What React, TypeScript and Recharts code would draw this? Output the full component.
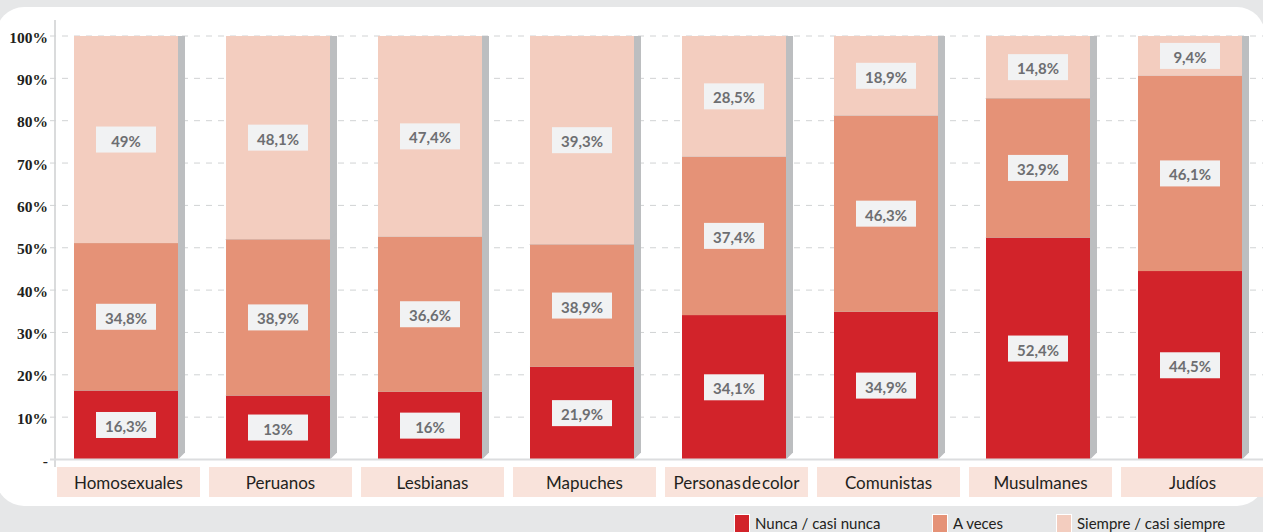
import React from 'react';
import { BarChart, Bar, XAxis, YAxis, CartesianGrid, LabelList } from 'recharts';

const categories = ['Homosexuales', 'Peruanos', 'Lesbianas', 'Mapuches', 'Personas de color', 'Comunistas', 'Musulmanes', 'Judíos'];
// bar heights as drawn in the picture (percent)
const nunca = [16.3, 15.1, 16, 21.9, 34.1, 34.9, 52.4, 44.5];
const aVeces = [34.8, 36.9, 36.6, 28.9, 37.4, 46.3, 32.9, 46.1];
const siempre = [49, 48, 47.4, 49.2, 28.5, 18.9, 14.8, 9.4];
// value labels as printed on the picture
const nuncaLabels = ['16,3%', '13%', '16%', '21,9%', '34,1%', '34,9%', '52,4%', '44,5%'];
const aVecesLabels = ['34,8%', '38,9%', '36,6%', '38,9%', '37,4%', '46,3%', '32,9%', '46,1%'];
const siempreLabels = ['49%', '48,1%', '47,4%', '39,3%', '28,5%', '18,9%', '14,8%', '9,4%'];
const yTicks = [0, 10, 20, 30, 40, 50, 60, 70, 80, 90, 100];
const seriesNames = ['Nunca / casi nunca', 'A veces', 'Siempre / casi siempre'];
const seriesColors = ['#d2232a', '#e59277', '#f3cdbf'];

const data = categories.map((c, i) => ({
  name: c,
  nunca: nunca[i],
  aVeces: aVeces[i],
  siempre: siempre[i],
  nuncaL: nuncaLabels[i],
  aVecesL: aVecesLabels[i],
  siempreL: siempreLabels[i],
}));

const SH = 7;
const BarShape = (props: any) => {
  const { x, y, width, height, fill } = props;
  if (!width || height == null) return null;
  const pts = [
    [x, y], [x + SH, y - SH], [x + width + SH, y - SH], [x + width + SH, y + height - SH], [x + width, y + height], [x, y + height],
  ].map((p) => p.join(',')).join(' ');
  return (
    <g>
      <polygon points={pts} fill="#bcbec0" />
      <rect x={x} y={y} width={width} height={height} fill={fill} />
    </g>
  );
};

const ValueLabel = (props: any) => {
  const { x, y, width, height, value } = props;
  const cx = x + width / 2;
  const cy = y + height / 2;
  return (
    <g>
      <rect x={cx - 30} y={cy - 13} width={60} height={26} fill="#f1f2f3" />
      <text x={cx} y={cy + 1} textAnchor="middle" dominantBaseline="central" fill="#6d6e71" fontFamily="Lato" fontWeight={700} fontSize={15}>
        {value}
      </text>
    </g>
  );
};

const XTick = (props: any) => {
  const { x, y, payload } = props;
  return (
    <g>
      <rect x={x - 71.5 + 2.5} y={y + 7.5} width={143} height={30} fill="#f9e3db" />
      <text x={x + 2.5} y={y + 23} textAnchor="middle" dominantBaseline="central" fill="#231f20" fontFamily="Lato" fontSize={17} wordSpacing={-3}>
        {payload.value}
      </text>
    </g>
  );
};

const YTick = (props: any) => {
  const { x, y, payload } = props;
  return (
    <text x={x} y={y + 1} textAnchor="end" dominantBaseline="central" fill="#231f20" fontFamily="Liberation Serif" fontWeight={700} fontSize={15.5}>
      {payload.value === 0 ? '-' : payload.value + '%'}
    </text>
  );
};

export default function App() {
  return (
    <div style={{ position: 'absolute', left: 0, top: 0, width: 1263, height: 532, background: '#e6e7e8', overflow: 'hidden' }}>
      <div style={{ position: 'absolute', left: -4, top: 7, width: 1269, height: 499, background: '#ffffff', borderRadius: 28 }} />
      <div style={{ position: 'absolute', left: 54, top: 20, width: 2, height: 447, background: '#dadbdc' }} />
      <div style={{ position: 'absolute', left: 0, top: 0 }}>
        <BarChart width={1266} height={532} data={data} margin={{ top: 36, right: 0, bottom: 32.5, left: 0 }} barSize={104}>
          <CartesianGrid horizontal vertical={false} stroke="#d1d3d4" strokeDasharray="6 6" />
          <XAxis dataKey="name" height={40} tickSize={0} tickMargin={0} tickLine={false} axisLine={{ stroke: '#dcdddf', strokeWidth: 2 }} tick={<XTick />} interval={0} />
          <YAxis width={50} domain={[0, 100]} allowDataOverflow ticks={yTicks} tickSize={0} tickMargin={2} tickLine={false} axisLine={false} tick={<YTick />} interval={0} />
          <Bar dataKey="nunca" stackId="a" fill={seriesColors[0]} shape={<BarShape />} isAnimationActive={false}>
            <LabelList dataKey="nuncaL" content={<ValueLabel />} />
          </Bar>
          <Bar dataKey="aVeces" stackId="a" fill={seriesColors[1]} shape={<BarShape />} isAnimationActive={false}>
            <LabelList dataKey="aVecesL" content={<ValueLabel />} />
          </Bar>
          <Bar dataKey="siempre" stackId="a" fill={seriesColors[2]} shape={<BarShape />} isAnimationActive={false}>
            <LabelList dataKey="siempreL" content={<ValueLabel />} />
          </Bar>
        </BarChart>
      </div>
      {[734, 932, 1056].map((lx, i) => (
        <div key={i} style={{ position: 'absolute', left: lx, top: 514, display: 'flex', alignItems: 'flex-start' }}>
          <div style={{ width: 14, height: 18, background: seriesColors[i], border: '1px solid #ffffff' }} />
          <span style={{ marginLeft: 5, fontFamily: 'Lato', fontSize: 15, color: '#231f20', lineHeight: '19px', whiteSpace: 'nowrap' }}>{seriesNames[i]}</span>
        </div>
      ))}
    </div>
  );
}
